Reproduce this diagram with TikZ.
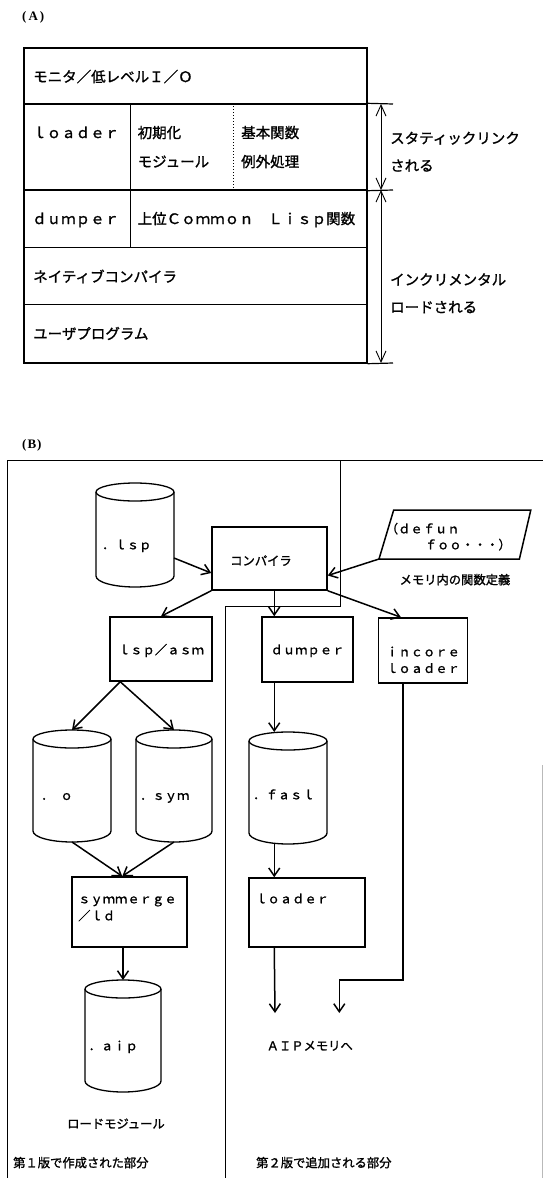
\documentclass[tikz,border=0pt]{standalone}
\usepackage{fontspec}
\setmainfont{Noto Sans CJK JP}[FakeBold=1.3]
\newfontfamily\tagfont{Liberation Serif}
\usetikzlibrary{arrows.meta,fit,calc}

\newcommand\sza{\fontsize{14.5pt}{17pt}\selectfont}
\newcommand\szb{\fontsize{12.3pt}{15pt}\selectfont}

% drum (cylinder) drawn inside a named bounding box: name, x1, ytop, x2, ybot
\newcommand\drum[5]{%
  \node[fit={(#2,-#3) (#4,-#5)}, inner sep=0, outer sep=0] (#1) {};
  \pgfmathsetmacro\drx{(#4-#2)/2}%
  \draw[drumline] ([yshift=-9pt]#1.north west) -- ([yshift=11pt]#1.south west)
    arc[start angle=180, end angle=360, x radius=\drx, y radius=11]
    -- ([yshift=-9pt]#1.north east);
  \draw[drumline] ([yshift=-9pt]#1.north) ellipse[x radius=\drx, y radius=9];
}

\begin{document}
\begin{tikzpicture}[x=1pt, y=1pt,
  cell/.style={draw, line width=1.4pt, inner sep=0},
  box/.style={draw, line width=1.5pt, inner sep=0},
  drumline/.style={line width=1.3pt},
  frame/.style={line width=0.9pt},
  tick/.style={line width=1.2pt},
  dim/.style={line width=0.9pt,
    {Straight Barb[length=11pt,width=10pt]}-{Straight Barb[length=11pt,width=10pt]}},
  arr/.style={line width=1.5pt, -{Straight Barb[length=8pt,width=11pt]}},
  tag/.style={inner sep=0, anchor=west, font=\tagfont\bfseries\fontsize{13pt}{15pt}\selectfont},
  tA/.style={inner sep=0, anchor=west, font=\sza, text height=11.6pt, text depth=1.5pt},
  tB/.style={inner sep=0, anchor=west, font=\szb, text height=9.8pt, text depth=1.2pt},
  tBc/.style={tB, anchor=center}]

\fill[white] (0,0) rectangle (543,-1178);
\useasboundingbox (0,0) rectangle (543,-1178);

% ---------------- (A) memory layout ----------------
\node[tag] (tagA) at (22,-17) {(\kern2pt A\kern2pt)};

\node[cell, fit={(24,-48) (367,-104)}] (mon) {};
\node[cell, fit={(24,-104) (130.5,-190)}] (ldr) {};
\node[cell, fit={(130.5,-104) (367,-190)}] (core) {};
\node[cell, fit={(24,-190) (130.5,-247.5)}] (dmp) {};
\node[cell, fit={(130.5,-190) (367,-247.5)}] (upper) {};
\node[cell, fit={(24,-247.5) (367,-304.5)}] (ncomp) {};
\node[cell, fit={(24,-304.5) (367,-363)}] (user) {};
\draw[dotted, line width=1pt] ($(core.north west)+(103.2,0)$) -- ($(core.south west)+(103.2,0)$);

\node[tA] (tmon) at (33,-77) {モニタ／低レベルＩ／Ｏ};
\node[tA] (tldr) at (32,-133) {ｌｏａｄｅｒ};
\node[tA] (tinit1) at (137.5,-133) {初期化};
\node[tA] (tinit2) at (137.5,-162) {モジュール};
\node[tA] (tbas1) at (241,-133) {基本関数};
\node[tA] (tbas2) at (241,-162) {例外処理};
\node[tA] (tdmp) at (32,-219) {ｄｕｍｐｅｒ};
\node[tA] (tupper) at (137.5,-219) {上位Ｃｏｍｍｏｎ　Ｌｉｓｐ関数};
\node[tA] (tncomp) at (33,-277) {ネイティブコンパイラ};
\node[tA] (tuser) at (33,-334) {ユーザプログラム};

% extent markers on the right
\coordinate (tk1) at (393,-104);
\coordinate (tk2) at (393,-190);
\coordinate (tk3) at (393,-363);
\draw[tick] (core.north east) -- (tk1);
\draw[tick] (core.south east) -- (tk2);
\draw[tick] (user.south east) -- (tk3);
\coordinate (a1) at (381,-104);
\coordinate (a2) at (381,-190);
\coordinate (a3) at (381,-363);
\draw[dim] (a1) -- (a2);
\draw[dim] (a2) -- (a3);

\node[tA] (ts1) at (390,-138.5) {スタティックリンク};
\node[tA] (ts2) at (390,-166) {される};
\node[tA] (ti1) at (390,-280) {インクリメンタル};
\node[tA] (ti2) at (390,-307.5) {ロードされる};

% ---------------- (B) compilation flow ----------------
\node[tag] (tagB) at (22,-445) {(\kern1pt B\kern1pt)};

\coordinate (fTL) at (7.5,-460);
\coordinate (fTR) at (543,-460);
\coordinate (fBL) at (7.5,-1178);
\coordinate (dTop) at (340,-460);
\coordinate (dMid) at (340,-606);
\coordinate (dMid2) at (225,-606);
\coordinate (dBot) at (225,-1178);
\draw[frame] (fTR) -- (fTL) -- (fBL);
\draw[frame] (dTop) -- (dMid) -- (dMid2) -- (dBot);
\coordinate (eTop) at (542.3,-765);
\coordinate (eBot) at (542.3,-1178);
\draw[gray!55, line width=0.8pt] (eTop) -- (eBot);

% boxes
\node[box, fit={(212,-527) (327,-590)}] (comp) {};
\node[box, fit={(110,-617) (212,-681)}] (asm) {};
\node[box, fit={(262,-617) (353,-682)}] (dumper) {};
\node[box, fit={(378.5,-618) (467.5,-683)}] (incore) {};
\node[box, fit={(72,-877) (187,-947)}] (merge) {};
\node[box, fit={(249,-878) (365,-947)}] (loader) {};

% in-memory definition (parallelogram)
\coordinate (dfBL) at (379,-559);
\coordinate (dfTL) at (393.7,-510);
\coordinate (dfTR) at (530.8,-510);
\coordinate (dfBR) at (519.4,-559);
\draw[line width=1.5pt, line join=miter] (dfBL) -- (dfTL) -- (dfTR) -- (dfBR) -- cycle;

% drums
\drum{lsp}{96}{483}{174}{587}
\drum{objo}{33}{730}{111}{842}
\drum{objsym}{136}{730}{212}{842}
\drum{fasl}{249}{732}{327}{844}
\drum{aip}{85}{980}{161}{1092}

% labels
\node[tB] (tlsp) at (102,-545) {．ｌｓｐ};
\node[tBc] (tcomp) at (261,-561) {コンパイラ};
\node[tB] (tdef1) at (385.6,-529) {（ｄｅｆｕｎ};
\node[tB] (tdef2) at (424.5,-545) {ｆｏｏ・・・）};
\node[tBc] (tmem) at (455,-580) {メモリ内の関数定義};
\node[tBc] (tasm) at (161,-650) {ｌｓｐ／ａｓｍ};
\node[tBc] (tdmpB) at (307.5,-650) {ｄｕｍｐｅｒ};
\node[tBc] (tinc1) at (423,-652) {ｉｎｃｏｒｅ};
\node[tBc] (tinc2) at (423,-668.6) {ｌｏａｄｅｒ};
\node[tB] (to) at (41,-795.6) {．\kern7ptｏ};
\node[tB] (tsym) at (140,-795.6) {．ｓｙｍ};
\node[tB] (tfasl) at (253,-795) {．ｆａｓｌ};
\node[tB] (tmrg1) at (78,-899) {ｓｙｍｍｅｒｇｅ};
\node[tB] (tmrg2) at (78,-916) {／ｌｄ};
\node[tB] (tldB) at (255,-899) {ｌｏａｄｅｒ};
\node[tB] (taip) at (88.5,-1046) {．ａｉｐ};
\node[tB] (taipm) at (266.5,-1046) {ＡＩＰメモリへ};
\node[tBc] (tlm) at (116,-1124) {ロードモジュール};
\node[tB] (tv1) at (13,-1163) {第１版で作成された部分};
\node[tB] (tv2) at (256,-1163) {第２版で追加される部分};

% connectors
\draw[arr] ([yshift=-23pt]lsp.east) -- ([yshift=-14.5pt]comp.west);
\draw[arr] (dfBL) -- ([yshift=-17pt]comp.east);
\draw[arr] (comp.south west) -- (asm.north);
\coordinate (dIn) at ([xshift=13pt]dumper.north west);
\draw[arr] (comp.south -| dIn) -- (dIn);
\coordinate (iIn) at ([xshift=23.2pt]incore.north west);
\draw[arr] (comp.south east) -- (iIn);
\coordinate (aOut) at ([xshift=11pt]asm.south west);
\draw[arr] (aOut) -- (objo.north);
\draw[arr] (aOut) -- (objsym.north);
\coordinate (mIn) at ([xshift=51pt]merge.north west);
\draw[arr] (objo.south) -- (mIn);
\draw[arr] (objsym.south) -- (mIn);
\draw[arr] (merge.south -| aip.north) -- (aip.north);
\draw[arr] (dumper.south -| dIn) -- (fasl.north -| dIn);
\draw[arr] (fasl.south -| dIn) -- (loader.north -| dIn);
\coordinate (memL) at (275,-1013);
\draw[arr] (loader.south -| dIn) -- (memL);
\coordinate (incOut) at ([xshift=25pt]incore.south west);
\coordinate (bend) at (339.3,-980);
\coordinate (memR) at (339.3,-1013);
\draw[arr] (incOut) |- (bend) -- (memR);

\end{tikzpicture}
\end{document}
